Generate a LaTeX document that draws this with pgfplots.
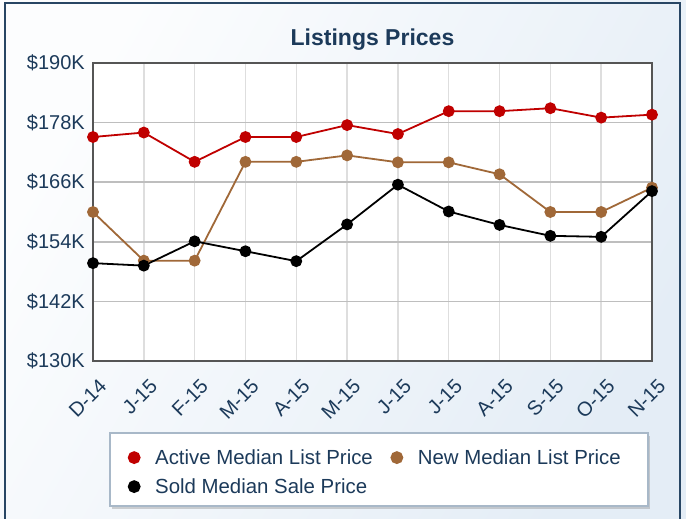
\documentclass[border=0pt]{standalone}
\usepackage{fontspec}
\setmainfont{Liberation Sans}
\usepackage{pgfplots}
\pgfplotsset{compat=1.18}
\usetikzlibrary{shadows}
\definecolor{navy}{RGB}{28,58,90}
\definecolor{redc}{RGB}{192,0,0}
\definecolor{brownc}{RGB}{160,104,56}
\definecolor{framec}{RGB}{85,85,85}
\definecolor{bordc}{RGB}{40,70,100}
\definecolor{bgur}{RGB}{228,237,246}
\definecolor{bgll}{RGB}{252,253,254}
\definecolor{legb}{RGB}{168,184,200}
\definecolor{gridx}{RGB}{222,222,222}
\definecolor{gridy}{RGB}{190,190,190}

\pgfplotstableread{
x active new sold
0 175.1 160.0 149.7
1 176.0 150.2 149.2
2 170.1 150.2 154.1
3 175.1 170.1 152.1
4 175.1 170.1 150.1
5 177.5 171.4 157.5
6 175.7 170.0 165.5
7 180.3 170.0 160.1
8 180.3 167.6 157.4
9 180.9 160.0 155.2
10 179.0 160.0 155.0
11 179.6 164.9 164.2
}\datatable

\begin{document}
\begin{tikzpicture}[x=1pt,y=1pt]
\useasboundingbox (-93,-158) rectangle (593,361);
\begin{scope}
\clip (-93,-158) rectangle (593,361);
\shade[left color=bgll, right color=bgur, shading angle=60] (-93,-158) rectangle (593,361);
\draw[bordc, line width=2pt] (-88,-175) rectangle (587,357.5);
\end{scope}
\draw[fill=white, draw=legb, line width=1.5pt, drop shadow={shadow xshift=2pt, shadow yshift=-3pt, opacity=0.35}] (17,-72) rectangle (555,-145);
\begin{axis}[
  at={(0pt,0pt)}, anchor=south west,
  scale only axis, width=559pt, height=298pt,
  xmin=0, xmax=11, ymin=130, ymax=190,
  xtick={0,...,11},
  xticklabels={D-14,J-15,F-15,M-15,A-15,M-15,J-15,J-15,A-15,S-15,O-15,N-15},
  ytick={130,142,154,166,178,190},
  yticklabels={\$130K,\$142K,\$154K,\$166K,\$178K,\$190K},
  grid=major,
  major x grid style={gridx, line width=1.5pt},
  major y grid style={gridy, line width=1.5pt},
  axis line style={framec, line width=2.5pt},
  major tick length=0pt,
  axis background/.style={fill=white},
  tick label style={font=\fontsize{20}{24}\selectfont, text=navy},
  yticklabel style={anchor=east, inner sep=0pt, xshift=-8pt},
  xticklabel style={anchor=east, inner sep=0pt, xshift=10pt, yshift=-22pt, rotate=45},
  title={Listings Prices},
  title style={font=\bfseries\fontsize{23}{27}\selectfont, text=navy, at={(0.5,1)}, anchor=base, yshift=12pt},
  legend columns=2,
  legend cell align=left,
  legend style={draw=none, fill=none, inner sep=0pt, at={(0.059,-0.295)}, anchor=north west,
    font=\fontsize{20.4}{24}\selectfont, text=navy, row sep=10pt,
    nodes={inner xsep=5pt, inner ysep=0pt, text height=15pt, text depth=4pt},
    /tikz/every even column/.append style={column sep=11pt}},
  legend image code/.code={\path[draw=none, fill=none] (-8pt,0pt) -- (16pt,0pt); \draw[#1, only marks, mark size=5.5pt] plot coordinates {(0pt,1pt)};},
  clip=false,
]
\addplot[redc, line width=1.8pt, mark=*, mark size=5pt, mark options={fill=redc, draw=redc}] table[x=x, y=active] {\datatable};
\addlegendentry{Active Median List Price}
\addplot[brownc, line width=1.8pt, mark=*, mark size=5pt, mark options={fill=brownc, draw=brownc}] table[x=x, y=new] {\datatable};
\addlegendentry{New Median List Price}
\addplot[black, line width=1.8pt, mark=*, mark size=5pt, mark options={fill=black, draw=black}] table[x=x, y=sold] {\datatable};
\addlegendentry{Sold Median Sale Price}
\end{axis}
\end{tikzpicture}
\end{document}
